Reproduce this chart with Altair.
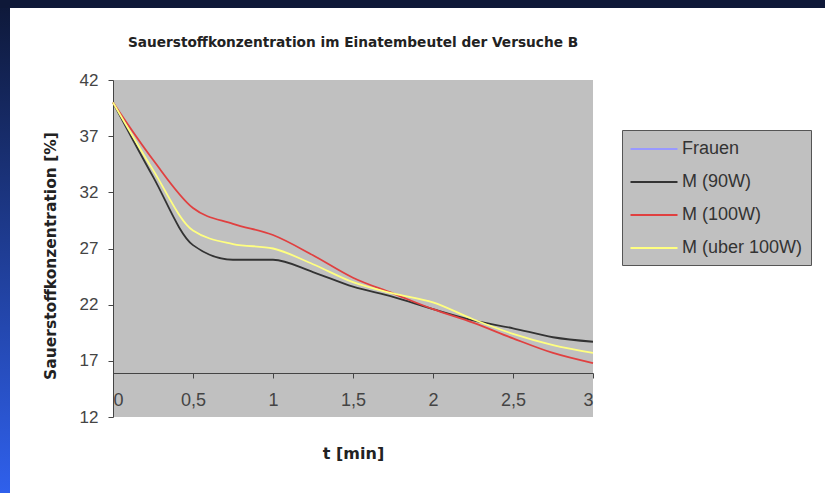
import altair as alt
import pandas as pd

# ---- data ----
t_min = [0, 0.25, 0.5, 0.75, 1.0, 1.25, 1.5, 1.75, 2.0, 2.25, 2.5, 2.75, 3.0]
m90 = [40.0, 33.4, 27.3, 26.0, 26.0, 24.9, 23.6, 22.7, 21.6, 20.6, 19.9, 19.1, 18.7]
m100 = [40.0, 34.9, 30.6, 29.2, 28.2, 26.4, 24.4, 23.0, 21.6, 20.4, 19.0, 17.7, 16.8]
m_uber100 = [40.0, 34.0, 28.6, 27.4, 27.0, 25.6, 24.0, 23.0, 22.2, 20.7, 19.4, 18.4, 17.7]

series_names = ["Frauen", "M (90W)", "M (100W)", "M (uber 100W)"]
series_colors = ["#9999ff", "#333333", "#e04040", "#ffff80"]
y_ticks = [12, 17, 22, 27, 32, 37, 42]
x_ticks = [0, 0.5, 1, 1.5, 2, 2.5, 3]

rows = []
for name, vals in [("M (90W)", m90), ("M (100W)", m100), ("M (uber 100W)", m_uber100)]:
    for t, v in zip(t_min, vals):
        rows.append({"t": t, "o2": v, "serie": name})
df = pd.DataFrame(rows)

W, H = 480, 337
PAD = {"left": 113, "top": 80, "right": 232, "bottom": 76}

lines = alt.Chart(df).mark_line(interpolate="monotone", strokeWidth=1.8).encode(
    x=alt.X("t:Q", scale=alt.Scale(domain=[0, 3], nice=False),
            axis=alt.Axis(values=x_ticks, grid=False, offset=-44, tickSize=5,
                          labelExpr="replace(toString(datum.value), '.', ',')",
                          labelFontSize=18, labelFont="Liberation Sans", labelColor="#444",
                          labelPadding=13, domainColor="#444", tickColor="#444",
                          title="t [min]", titleFont="DejaVu Sans", titleFontSize=16,
                          titleFontWeight="bold", titleColor="#222",
                          titleY=80, titleBaseline="middle")),
    y=alt.Y("o2:Q", scale=alt.Scale(domain=[12, 42], nice=False, zero=False),
            axis=alt.Axis(values=y_ticks, grid=False, tickSize=5,
                          labelFontSize=17, labelFont="Liberation Sans", labelColor="#444",
                          labelPadding=10, domainColor="#444", tickColor="#444",
                          title="Sauerstoffkonzentration [%]", titleFont="DejaVu Sans",
                          titleFontSize=15.5, titleFontWeight="bold", titleColor="#222",
                          titleX=-63, titleY=H / 2 + 7, titleBaseline="middle")),
    color=alt.Color("serie:N", sort=series_names,
                    scale=alt.Scale(domain=series_names, range=series_colors),
                    legend=alt.Legend(title=None, orient="none", legendX=509, legendY=50,
                                      symbolType="M-2.35,0H2.35", symbolSize=400,
                                      symbolOffset=13, symbolStrokeWidth=2,
                                      labelFontSize=18, labelFont="Liberation Sans",
                                      labelColor="#333", labelOffset=17,
                                      fillColor="#c0c0c0", strokeColor="#555",
                                      padding=8, rowPadding=13)),
    order=alt.Order("t:Q"),
)

grad = alt.LinearGradient(
    gradient="linear",
    stops=[alt.GradientStop(color="#0e1838", offset=0),
           alt.GradientStop(color="#2f60ec", offset=1)],
    x1=0, x2=0, y1=0, y2=1,
)
frame_left = alt.Chart(alt.Data(values=[{"k": 1}])).mark_rect(fill=grad).encode(
    x=alt.value(-PAD["left"]), x2=alt.value(-PAD["left"] + 10),
    y=alt.value(-PAD["top"]), y2=alt.value(H + PAD["bottom"]))
frame_top = alt.Chart(alt.Data(values=[{"k": 1}])).mark_rect(fill="#0e1838").encode(
    x=alt.value(-PAD["left"]), x2=alt.value(W + PAD["right"]),
    y=alt.value(-PAD["top"]), y2=alt.value(-PAD["top"] + 8))

chart = alt.layer(lines, frame_left, frame_top).properties(
    width=W, height=H, autosize="none", padding=PAD,
    background="white",
    title=alt.TitleParams("Sauerstoffkonzentration im Einatembeutel der Versuche B",
                          font="DejaVu Sans", fontSize=13.7, fontWeight="bold",
                          color="#222", offset=0, dy=57, baseline="middle",
                          anchor="middle", frame="group"),
).configure_view(fill="#c0c0c0", strokeWidth=0)

chart.save("out.html", embed_options={"renderer": "svg", "actions": False})
